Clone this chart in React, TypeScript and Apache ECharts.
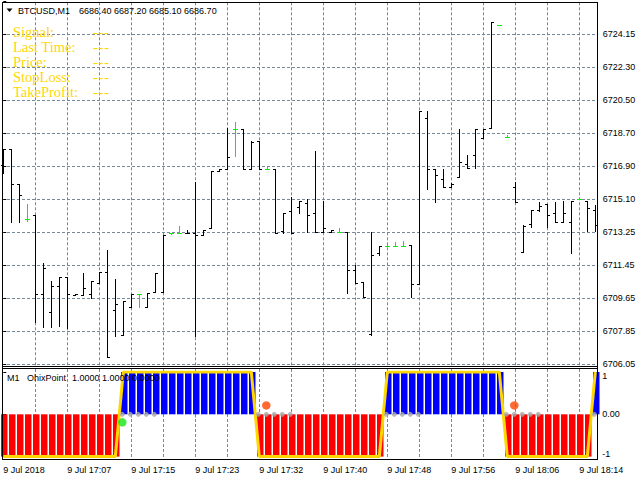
import React, { useEffect, useRef } from "react";
import * as echarts from "echarts";

// ---- price bars (M1, 75 bars) ----
const opens = [
  6716.98, 6717.84, 6715.92, 6714.0, 6714.22, 6709.91, 6708.92, 6710.34, 6710.86, 6709.85,
  6709.85, 6709.91, 6710.49, 6711.1, 6709.01, 6707.64, 6709.21, 6709.91, 6709.21, 6710.0,
  6710.0, 6713.24, 6713.24, 6713.27, 6713.24, 6713.13, 6713.51, 6716.64, 6716.78, 6718.94,
  6718.94, 6716.75, 6718.31, 6716.75, 6716.78, 6713.38, 6714.46, 6714.69, 6714.91, 6714.35,
  6713.29, 6713.29, 6713.29, 6713.29, 6711.22, 6710.58, 6707.71, 6712.14, 6712.52, 6712.52,
  6712.52, 6712.61, 6710.45, 6719.54, 6716.75, 6716.2, 6715.79, 6716.31, 6717.04, 6717.51,
  6718.48, 6719.01, 6724.66, 6718.53, 6715.79, 6712.19, 6713.73, 6714.5, 6714.84, 6714.36,
  6713.84, 6713.86, 6715.1, 6715.01, 6714.51,
];
const highs = [
  6717.84, 6717.84, 6715.92, 6714.83, 6714.22, 6711.59, 6710.62, 6710.86, 6710.86, 6709.91,
  6711.06, 6710.62, 6711.1, 6712.32, 6710.73, 6709.51, 6709.91, 6709.91, 6709.98, 6711.04,
  6713.13, 6713.25, 6713.64, 6713.4, 6716.07, 6713.4, 6716.64, 6716.78, 6718.99, 6719.34,
  6718.94, 6718.31, 6718.31, 6716.89, 6716.78, 6714.33, 6715.21, 6714.99, 6715.1, 6717.73,
  6715.01, 6713.42, 6713.51, 6713.29, 6711.5, 6710.58, 6713.29, 6712.52, 6712.59, 6712.74,
  6712.83, 6712.61, 6719.96, 6719.96, 6716.75, 6716.75, 6715.98, 6718.96, 6717.51, 6718.96,
  6718.96, 6724.81, 6724.66, 6718.61, 6716.03, 6713.69, 6714.5, 6714.94, 6714.84, 6714.95,
  6715.01, 6715.01, 6715.1, 6715.01, 6714.79,
];
const lows = [
  6716.53, 6713.87, 6713.87, 6713.91, 6708.37, 6708.11, 6708.11, 6708.15, 6708.02, 6709.83,
  6709.85, 6709.69, 6710.49, 6706.43, 6707.6, 6707.64, 6709.21, 6709.21, 6709.21, 6710.0,
  6710.0, 6713.2, 6713.24, 6713.24, 6707.62, 6713.13, 6713.51, 6716.64, 6716.78, 6717.49,
  6716.75, 6716.75, 6716.75, 6716.75, 6713.27, 6713.27, 6713.27, 6714.33, 6713.29, 6713.29,
  6713.29, 6713.29, 6713.29, 6709.98, 6710.49, 6709.73, 6707.66, 6712.03, 6712.52, 6712.52,
  6712.52, 6709.73, 6710.45, 6715.68, 6714.97, 6715.79, 6715.79, 6716.31, 6716.8, 6716.8,
  6718.48, 6719.01, 6724.66, 6718.53, 6714.97, 6712.19, 6713.6, 6714.46, 6713.6, 6713.84,
  6713.84, 6712.14, 6715.1, 6713.38, 6713.38,
];
const closes = [
  6717.84, 6715.92, 6715.32, 6714.0, 6709.91, 6711.32, 6710.34, 6710.86, 6709.91, 6709.91,
  6710.22, 6710.62, 6711.1, 6706.47, 6709.36, 6709.51, 6709.91, 6709.91, 6709.98, 6711.04,
  6713.13, 6713.24, 6713.24, 6713.24, 6713.13, 6713.4, 6716.64, 6716.78, 6717.4, 6718.94,
  6716.78, 6718.26, 6716.78, 6716.75, 6713.27, 6714.33, 6713.27, 6714.99, 6714.22, 6713.29,
  6713.51, 6713.42, 6713.29, 6711.22, 6710.49, 6709.73, 6712.03, 6712.52, 6712.52, 6712.52,
  6712.52, 6710.45, 6719.96, 6716.75, 6716.43, 6715.79, 6715.96, 6717.13, 6716.8, 6718.96,
  6718.96, 6724.81, 6724.66, 6718.53, 6714.97, 6713.65, 6714.5, 6714.73, 6714.22, 6713.84,
  6714.36, 6715.01, 6715.1, 6714.61, 6713.69,
];

// ---- OhixPoint indicator ----
const signalValues = [
  -1, -1, -1, -1, -1, -1, -1, -1, -1, -1, -1, -1, -1, -1, -1,
  1, 1, 1, 1, 1, 1, 1, 1, 1, 1, 1, 1, 1, 1, 1, 1, 1,
  -1, -1, -1, -1, -1, -1, -1, -1, -1, -1, -1, -1, -1, -1, -1, -1,
  1, 1, 1, 1, 1, 1, 1, 1, 1, 1, 1, 1, 1, 1, 1,
  -1, -1, -1, -1, -1, -1, -1, -1, -1, -1, -1,
  1,
];
const grayDotBars = [15, 16, 17, 18, 19, 32, 33, 34, 35, 36, 48, 49, 50, 51, 52, 63, 64, 65, 66, 67, 74];
const arrowDotBars = [15, 33, 64];
const arrowDotValues = [-0.19, 0.21, 0.21];
const arrowDotColors = ["#14e614", "#ff4500", "#ff4500"];

// ---- axes ----
const priceMin = 6706.05;
const priceStep = 1.81;
const priceLabels = [
  "6706.05", "6707.85", "6709.65", "6711.45", "6713.25", "6715.10",
  "6716.90", "6718.70", "6720.50", "6722.30", "6724.15",
];
const timeLabelBars = [0, 8, 16, 24, 32, 40, 48, 56, 64, 72];
const timeLabels = [
  "9 Jul 2018", "9 Jul 17:07", "9 Jul 17:15", "9 Jul 17:23", "9 Jul 17:32",
  "9 Jul 17:40", "9 Jul 17:48", "9 Jul 17:56", "9 Jul 18:06", "9 Jul 18:14",
];
const gridBars = [4, 8, 12, 16, 20, 24, 28, 32, 36, 40, 44, 48, 52, 56, 60, 64, 68, 72];
const indicatorLevels = [-1, 0, 1];
const indicatorLevelLabels = ["-1", "0.00", "1"];

// ---- texts ----
const headerSymbol = "BTCUSD,M1";
const headerPrices = ["6686.40", "6687.20", "6685.10", "6686.70"];
const infoLabels = ["Signal:", "Last Time:", "Price:", "StopLoss:", "TakeProfit:"];
const infoValues = ["---", "---", "---", "---", "---"];
const indicatorTitle = ["M1", "OhixPoint"];
const indicatorValues = ["1.0000", "1.0000", "0.0000"];

const FONT = "Liberation Sans";
const GRID_COLOR = "#778899";
const DOJI = "#14e614";
const YELLOW = "#ffd700";

function buildOption() {
  const xMin = -0.1625;
  const xMax = 74.25;
  const ohlcData = opens.map((o, i) => [i, o, highs[i], lows[i], closes[i]]);

  const gridLineSeries = (idx: number, topExt: number, botExt: number, yVal: number) => ({
    type: "custom",
    xAxisIndex: idx,
    yAxisIndex: idx,
    silent: true,
    z: 1,
    data: gridBars.map((b) => [b, yVal]),
    encode: { x: 0, y: 1 },
    renderItem: (params: any, api: any) => {
      const cs = params.coordSys;
      const x = Math.round(api.coord([api.value(0), api.value(1)])[0]) + 0.5;
      return {
        type: "line",
        shape: { x1: x, y1: cs.y - topExt, x2: x, y2: cs.y + cs.height + botExt },
        style: { stroke: GRID_COLOR, lineWidth: 1, lineDash: [3, 2] },
      };
    },
  });

  const frame = (x1: number, y1: number, x2: number, y2: number) => ({
    type: "line",
    z: 50,
    silent: true,
    shape: { x1, y1, x2, y2 },
    style: { stroke: "#000", lineWidth: 1 },
  });

  const txt = (text: string, x: number, y: number, extra: any = {}) => ({
    type: "text",
    z: 60,
    silent: true,
    x,
    y,
    style: {
      text,
      fill: "#000",
      fontSize: 9,
      fontFamily: FONT,
      verticalAlign: "middle",
      align: "left",
      ...extra,
    },
  });

  const graphic: any[] = [
    frame(2, 2.5, 598, 2.5),
    frame(2, 366.5, 598, 366.5),
    frame(2, 368.5, 598, 368.5),
    frame(2, 459.5, 598, 459.5),
    frame(2.5, 2, 2.5, 460),
    frame(597.5, 2, 597.5, 460),
    {
      type: "polygon",
      z: 60,
      silent: true,
      shape: { points: [[6.5, 8.5], [12.5, 8.5], [9.5, 12]] },
      style: { fill: "#000" },
    },
    txt(headerSymbol, 18, 10.5),
    txt(headerPrices.join(" "), 79, 10.5),
    txt(indicatorTitle[0], 7, 378),
    txt(indicatorTitle[1], 27, 378),
    txt(indicatorValues.join(" "), 72, 378),
  ];
  const serif = { fill: YELLOW, fontSize: 14.5, fontFamily: "Liberation Serif" };
  infoLabels.forEach((t, k) => {
    const y = 32 + k * 15;
    graphic.push(txt(t, 13, y, serif));
    infoValues[k].split("").forEach((ch, j) => {
      graphic.push(txt(ch, 93 + j * 5.6, y, serif));
    });
  });

  return {
    animation: false,
    backgroundColor: "#ffffff",
    grid: [
      { left: 2, right: 42.7, top: 1.3, height: 363 },
      { left: 2, right: 42.7, top: 372, height: 84.6 },
    ],
    xAxis: [
      { type: "value", gridIndex: 0, min: xMin, max: xMax, show: false },
      {
        type: "value",
        gridIndex: 1,
        min: xMin,
        max: xMax,
        position: "bottom",
        offset: 2.9,
        axisLine: { show: false },
        splitLine: { show: false },
        axisTick: { show: true, customValues: timeLabelBars, length: 3, lineStyle: { color: "#000" } },
        axisLabel: {
          customValues: timeLabelBars,
          formatter: (v: number) => timeLabels[timeLabelBars.indexOf(Math.round(v))] ?? "",
          align: "left",
          margin: 6,
          color: "#000",
          fontSize: 9,
          fontFamily: FONT,
        },
      },
    ],
    yAxis: [
      {
        type: "value",
        gridIndex: 0,
        position: "right",
        min: priceMin,
        max: priceMin + priceStep * 11,
        interval: priceStep,
        axisLine: { show: false },
        axisTick: { show: true, length: 3, lineStyle: { color: "#000" } },
        splitLine: { show: true, showMaxLine: false, lineStyle: { color: GRID_COLOR, width: 1, type: [3, 2] } },
        axisLabel: {
          margin: 5.4,
          color: "#000",
          fontSize: 9,
          fontFamily: FONT,
          formatter: (v: number) => priceLabels[Math.round((v - priceMin) / priceStep)] ?? "",
        },
      },
      {
        type: "value",
        gridIndex: 1,
        position: "right",
        min: -1,
        max: 1,
        interval: 1,
        axisLine: { show: false },
        splitLine: { show: false },
        axisTick: { show: true, length: 3, lineStyle: { color: "#000" } },
        axisLabel: {
          margin: 5,
          color: "#000",
          fontSize: 9,
          fontFamily: FONT,
          formatter: (v: number) => {
            const k = indicatorLevels.indexOf(Math.round(v));
            const s = indicatorLevelLabels[k] ?? "";
            if (v > 0.5) return "{t|" + s + "}";
            if (v < -0.5) return "{b|" + s + "}";
            return "{m|" + s + "}";
          },
          rich: {
            t: { padding: [7, 0, 0, 0], fontSize: 9, fontFamily: FONT, color: "#000" },
            b: { padding: [0, 0, 6, 0], fontSize: 9, fontFamily: FONT, color: "#000" },
            m: { fontSize: 9, fontFamily: FONT, color: "#000" },
          },
        },
      },
    ],
    graphic,
    series: [
      gridLineSeries(0, -1, 2, priceMin),
      gridLineSeries(1, 3, 2.4, 0),
      {
        type: "custom",
        name: "BTCUSD",
        xAxisIndex: 0,
        yAxisIndex: 0,
        z: 3,
        data: ohlcData,
        encode: { x: 0, y: [1, 2, 3, 4] },
        renderItem: (_params: any, api: any) => {
          const i = api.value(0);
          const o = api.value(1);
          const h = api.value(2);
          const l = api.value(3);
          const c = api.value(4);
          const pH = api.coord([i, h]);
          const pL = api.coord([i, l]);
          const pO = api.coord([i, o]);
          const pC = api.coord([i, c]);
          const xi = Math.round(pH[0]);
          const color = o === c ? DOJI : "#000";
          const st = { stroke: color, lineWidth: 1 };
          const yo = Math.round(pO[1]) + 0.5;
          const yc = Math.round(pC[1]) + 0.5;
          return {
            type: "group",
            children: [
              {
                type: "line",
                shape: { x1: xi + 0.5, y1: Math.round(pH[1]), x2: xi + 0.5, y2: Math.round(pL[1]) + 1 },
                style: st,
              },
              { type: "line", shape: { x1: xi - 2, y1: yo, x2: xi + 1, y2: yo }, style: st },
              { type: "line", shape: { x1: xi, y1: yc, x2: xi + 3, y2: yc }, style: st },
            ],
          };
        },
      },
      {
        type: "custom",
        name: "OhixPoint histogram",
        xAxisIndex: 1,
        yAxisIndex: 1,
        z: 2,
        data: signalValues.map((v, i) => [i, v]),
        encode: { x: 0, y: 1 },
        renderItem: (_params: any, api: any) => {
          const i = api.value(0);
          const v = api.value(1);
          const p0 = api.coord([i, 0]);
          const p1 = api.coord([i, v]);
          const xi = Math.round(p0[0]);
          const top = Math.min(p0[1], p1[1]);
          return {
            type: "rect",
            shape: { x: xi - 2, y: top, width: 6.5, height: Math.abs(p1[1] - p0[1]) },
            style: { fill: v > 0 ? "#0000ff" : "#ff0000" },
          };
        },
      },
      {
        type: "line",
        name: "OhixPoint line",
        xAxisIndex: 1,
        yAxisIndex: 1,
        z: 3,
        data: signalValues.map((v, i) => [i, v]),
        showSymbol: false,
        lineStyle: { color: YELLOW, width: 3 },
      },
      {
        type: "scatter",
        xAxisIndex: 1,
        yAxisIndex: 1,
        z: 4,
        symbolSize: 5,
        symbolOffset: [-1, 0],
        itemStyle: { color: "#a9a9a9" },
        data: grayDotBars.map((b) => [b, 0]),
      },
      {
        type: "scatter",
        xAxisIndex: 1,
        yAxisIndex: 1,
        z: 5,
        symbolSize: 8.5,
        symbolOffset: [-1, 0],
        data: arrowDotBars.map((b, k) => ({ value: [b, arrowDotValues[k]], itemStyle: { color: arrowDotColors[k] } })),
      },
    ],
  };
}

export default function App() {
  const ref = useRef<HTMLDivElement>(null);
  useEffect(() => {
    if (!ref.current) return;
    const chart = echarts.init(ref.current, null, { renderer: "svg" });
    chart.setOption(buildOption() as any);
    return () => chart.dispose();
  }, []);
  return (
    <div
      ref={ref}
      style={{ position: "fixed", left: 0, top: 0, width: 640, height: 480, background: "#ffffff" }}
    />
  );
}
